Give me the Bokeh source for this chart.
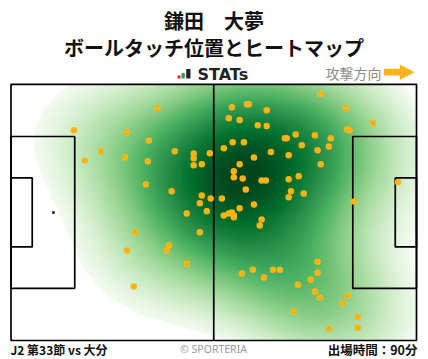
import numpy as np
from bokeh.plotting import figure
from bokeh.models import Range1d, LinearColorMapper
from bokeh.core.properties import value
from bokeh.embed import file_html
from bokeh.resources import INLINE

# ---------------- data ----------------
PITCH_LENGTH = 105.0
PITCH_WIDTH = 68.0

touch_x = [16.3, 38.0, 30.0, 35.7, 23.3, 19.1, 29.5, 35.4, 42.4, 47.3,
           47.3, 51.5, 47.3, 49.4, 34.9, 41.6, 49.4, 48.9, 51.7, 50.7,
           45.5, 32.2, 48.9, 40.9, 40.3, 30.0, 45.5, 31.8, 80.2, 57.2,
           61.1, 61.6, 66.2, 86.7, 56.4, 59.2, 63.9, 66.2, 93.7, 87.0,
           87.7, 73.7, 78.7, 82.8, 70.9, 71.4, 57.4, 60.3, 55.1, 75.3,
           82.3, 79.4, 67.3, 71.9, 62.9, 59.2, 80.2, 57.7, 57.7, 60.0,
           64.9, 66.0, 71.9, 74.5, 60.8, 72.5, 71.9, 75.8, 100.2, 88.8,
           54.6, 62.9, 59.2, 55.1, 56.4, 57.2, 57.7, 57.7, 64.9, 64.4,
           79.4, 62.6, 67.8, 69.6, 59.8, 65.5, 79.4, 77.6, 74.3, 78.7,
           80.0, 87.2, 85.7, 73.2, 89.8, 82.3, 89.8]
touch_y = [55.8, 61.7, 55.3, 53.1, 50.2, 47.8, 48.6, 47.6, 50.2, 49.6,
           48.4, 49.7, 46.5, 46.8, 41.4, 39.6, 38.5, 36.4, 37.7, 34.3,
           33.7, 28.7, 28.7, 25.2, 23.9, 23.9, 20.4, 14.3, 65.4, 61.9,
           62.7, 62.7, 61.1, 61.7, 59.0, 58.5, 57.1, 56.9, 57.7, 56.1,
           55.8, 54.7, 54.5, 53.7, 53.7, 53.7, 52.6, 52.6, 51.0, 51.8,
           51.5, 50.5, 50.0, 49.2, 48.6, 46.8, 46.8, 44.9, 43.3, 43.0,
           42.5, 42.5, 42.8, 43.6, 40.1, 39.6, 38.0, 39.0, 42.0, 36.9,
           37.7, 36.1, 35.1, 33.2, 33.7, 34.0, 33.2, 32.7, 32.1, 30.5,
           20.9, 18.8, 18.8, 18.8, 17.8, 16.7, 18.0, 16.2, 14.8, 13.0,
           11.4, 11.9, 9.8, 7.6, 6.3, 3.1, 3.4]

title_name = "鎌田　大夢"
title_sub = "ボールタッチ位置とヒートマップ"
brand_label = "STATs"
direction_label = "攻撃方向"
match_label = "J2 第33節 vs 大分"
credit_label = "© SPORTERIA"
minutes_label = "出場時間：90分"

# ---------------- layout (figure pixels) ----------------
W, H = 428, 359
F_LEFT, F_RIGHT, F_TOP, F_BOTTOM = 10.5, 416.0, 83.8, 340.0
SX = (F_RIGHT - F_LEFT) / PITCH_LENGTH
SY = (F_BOTTOM - F_TOP) / PITCH_WIDTH
X0 = -F_LEFT / SX
YTOP = PITCH_WIDTH + F_TOP / SY


def fx(px):
    return X0 + px / SX


def fy(py):
    return YTOP - py / SY


p = figure(width=W, height=H, x_range=Range1d(fx(0), fx(W)), y_range=Range1d(fy(H), fy(0)),
           output_backend="svg", toolbar_location=None, x_axis_type=None, y_axis_type=None,
           min_border=0, outline_line_color=None, background_fill_color="white")

# ---------------- heatmap (KDE of touches) ----------------
BW_ADJUST = 1.6
THRESH = 0.06
GAMMA = 0.65
xs = np.array(touch_x)
ys = np.array(touch_y)
cov = np.cov(np.vstack([xs, ys]))
factor = len(xs) ** (-1.0 / 6.0) * BW_ADJUST
inv = np.linalg.inv(cov * factor ** 2)
step = 0.25
gx = np.arange(-30.0, PITCH_LENGTH + 30.0 + step / 2, step)
gy = np.arange(-30.0, PITCH_WIDTH + 30.0 + step / 2, step)
GX, GY = np.meshgrid(gx, gy)
dens = np.zeros_like(GX)
for x0, y0 in zip(xs, ys):
    dx = GX - x0
    dy = GY - y0
    dens += np.exp(-0.5 * (inv[0, 0] * dx * dx + 2 * inv[0, 1] * dx * dy + inv[1, 1] * dy * dy))
vals = np.sort(dens.ravel())[::-1]
cum = np.cumsum(vals) / vals.sum()
level = vals[min(np.searchsorted(cum, 1 - THRESH), len(vals) - 1)]
ix = (gx >= 0) & (gx <= PITCH_LENGTH)
iy = (gy >= 0) & (gy <= PITCH_WIDTH)
sub = dens[np.ix_(iy, ix)]
norm = np.clip((sub - level) / (sub.max() - level), 0, 1) ** GAMMA
img = np.where(sub >= level, norm, np.nan)

greens9 = ['#f7fcf5', '#e5f5e0', '#c7e9c0', '#a1d99b', '#74c476', '#41ab5d', '#238b45', '#006d2c', '#00441b']
rgb = np.array([[int(c[i:i + 2], 16) for i in (1, 3, 5)] for c in greens9], dtype=float)
t9 = np.linspace(0, 1, 9)
t = np.linspace(0, 1, 256)
palette = ["#%02x%02x%02x" % tuple(int(round(np.interp(tt, t9, rgb[:, k]))) for k in range(3)) for tt in t]
mapper = LinearColorMapper(palette=palette, low=0.0, high=1.0, nan_color="rgba(0,0,0,0)")
p.image(image=[img], x=0, y=0, dw=PITCH_LENGTH, dh=PITCH_WIDTH, color_mapper=mapper)

# ---------------- pitch ----------------
LW = 1.7
box_d, box_w = 16.5, 40.3
ga_d, ga_w = 5.5, 18.32
cy = PITCH_WIDTH / 2
p.quad(left=[0, 0, 0, PITCH_LENGTH - box_d, PITCH_LENGTH - ga_d],
       right=[PITCH_LENGTH, box_d, ga_d, PITCH_LENGTH, PITCH_LENGTH],
       bottom=[0, cy - box_w / 2, cy - ga_w / 2, cy - box_w / 2, cy - ga_w / 2],
       top=[PITCH_WIDTH, cy + box_w / 2, cy + ga_w / 2, cy + box_w / 2, cy + ga_w / 2],
       fill_color=None, line_color="black", line_width=LW)
p.segment(x0=[PITCH_LENGTH / 2], y0=[0], x1=[PITCH_LENGTH / 2], y1=[PITCH_WIDTH],
          line_color="black", line_width=LW)
p.scatter(x=[11.0], y=[cy], marker="square", size=2.5, fill_color="black", line_color=None)

# ---------------- touches ----------------
p.scatter(x=touch_x, y=touch_y, size=6.5, fill_color="#FFB414", line_color=None)

# ---------------- header ----------------
JP = value("Noto Sans CJK JP")
cx = fx(213.5)
p.text(x=[cx, cx], y=[fy(20.3), fy(46.5)], text=[title_name, title_sub], text_font=JP,
       text_font_style="bold", text_font_size="20px", text_align="center",
       text_baseline="middle", text_color="#111111")

# STATs logo
p.quad(left=[fx(177), fx(181), fx(185.7)], right=[fx(180), fx(184.3), fx(190)],
       bottom=[fy(78)] * 3, top=[fy(75), fy(72.5), fy(68.5)],
       fill_color=["#d7262c", "#2ba24c", "#222222"], line_color=None)
p.text(x=[fx(197)], y=[fy(73.5)], text=[brand_label], text_font=value("DejaVu Sans"),
       text_font_style="bold", text_font_size="16px", text_align="left",
       text_baseline="middle", text_color="#222222")

# direction
p.text(x=[fx(325)], y=[fy(72)], text=[direction_label], text_font=JP,
       text_font_size="14px", text_align="left", text_baseline="middle", text_color="#8a8a8a")
p.patch(x=[fx(383.3), fx(399.3), fx(399.3), fx(414), fx(399.3), fx(399.3), fx(383.3)],
        y=[fy(68.3), fy(68.3), fy(64), fy(71.7), fy(79.4), fy(75), fy(75)],
        fill_color="#F8B41A", line_color=None)

# ---------------- footer ----------------
p.text(x=[fx(10)], y=[fy(349)], text=[match_label], text_font=JP, text_font_style="bold",
       text_font_size="12px", text_align="left", text_baseline="middle", text_color="#111111")
p.text(x=[fx(213)], y=[fy(348.5)], text=[credit_label], text_font=value("Noto Sans"),
       text_font_size="10.5px", text_align="center", text_baseline="middle", text_color="#9a9a9a")
p.text(x=[fx(417)], y=[fy(349)], text=[minutes_label], text_font=JP, text_font_style="bold",
       text_font_size="12.5px", text_align="right", text_baseline="middle", text_color="#111111")

open("out.html", "w").write(file_html(p, INLINE))
